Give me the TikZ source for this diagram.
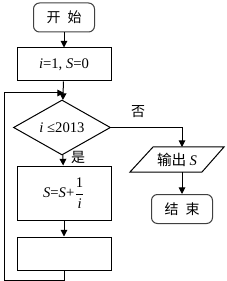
\documentclass[tikz,border=0pt]{standalone}
\usepackage{amsmath}
\usepackage{fontspec}
\setmainfont{Liberation Serif}
\newfontfamily\cjk{Noto Sans CJK SC}
\usetikzlibrary{shapes.geometric,arrows.meta}
\tikzset{
  box/.style={draw, line width=0.75pt, minimum width=70.5pt, minimum height=24.75pt, inner sep=0pt},
  term/.style={draw=black!75, line width=0.75pt, rounded corners=4.5pt, minimum width=45.75pt, minimum height=21.75pt, inner sep=0pt},
  cond/.style={draw, line width=0.75pt, diamond, minimum width=72.75pt, minimum height=30pt, inner sep=0pt},
  flow/.style={line width=0.75pt, -{Triangle[length=5pt,width=5pt]}},
  wire/.style={line width=0.75pt},
  lbl/.style={font=\cjk\fontsize{10.5}{12}\selectfont}
}
\begin{document}
\begin{tikzpicture}[x=0.75pt,y=-0.75pt, font=\fontsize{11}{13}\selectfont]
\useasboundingbox (0,0) rectangle (226,281);
\node[term, font=\cjk\fontsize{10.5}{12}\selectfont] (start) at (64,17.5) {开\hspace{0.5em}始};
\node[box] (init) at (64,64.5) {\textit{i}=1, \textit{S}=0};
\node[cond] (dec) at (62,127.5) {\textit{i} ≤2013};
\node[box, minimum height=40.5pt] (body) at (64,193) {\textit{S}=\textit{S}+$\genfrac{}{}{0.5pt}{0}{\mbox{1}\rule[-3pt]{0pt}{3pt}}{\rule{0pt}{9pt}\mbox{\textit{i}}}$};
\node[box] (empty) at (64,253.5) {};
\node (out) at (177,159.5) {\cjk 输出 \rmfamily\textit{S}};
\draw[wire] (130,172) -- (202,172) -- (224,147) -- (153,147) -- cycle;
\node[term, font=\cjk\fontsize{10.5}{12}\selectfont] (end) at (182,209) {结\hspace{0.5em}束};
\coordinate (outtop) at (182,147);
\coordinate (outbot) at (182,172);
\coordinate (loopin) at (64,93);
\draw[flow] (start) -- (init);
\draw[flow] (init) -- (dec);
\draw[flow] (dec) -- (body);
\draw[flow] (body) -- (empty);
\draw[flow] (dec.east) -| (outtop);
\draw[flow] (outbot) -- (end);
\draw[flow] (empty.south) -- ++(0,10) -| (4,93) -- (loopin);
\node[lbl] (no) at (138,112) {否};
\node[lbl] (yes) at (78,157) {是};
\end{tikzpicture}
\end{document}
